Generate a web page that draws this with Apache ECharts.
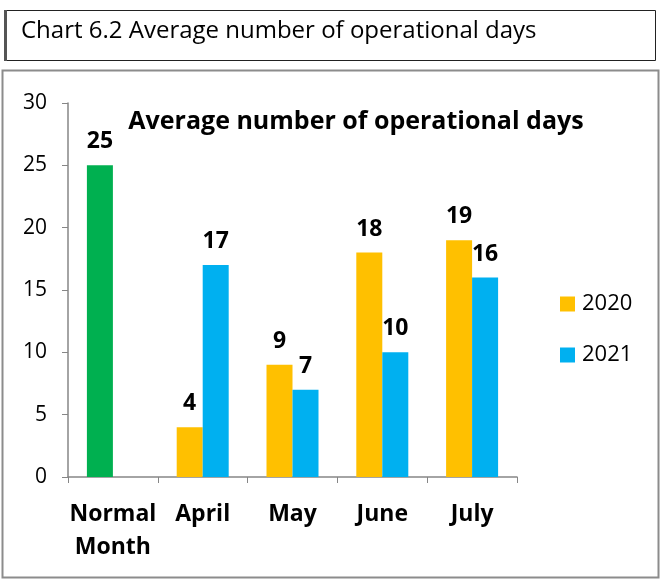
<!DOCTYPE html>
<html><head><meta charset="utf-8">
<script src="https://cdn.jsdelivr.net/npm/echarts@6/dist/echarts.min.js"></script>
<style>html,body{margin:0;padding:0;background:#fff}#c{width:662px;height:580px}</style>
</head><body><div id="c"></div>
<script>
const categories = ['Normal\nMonth', 'April', 'May', 'June', 'July'];
const values2020 = [25, 4, 9, 18, 19];
const values2021 = [null, 17, 7, 10, 16];
const yTicks = [0, 5, 10, 15, 20, 25, 30];
const seriesNames = ['2020', '2021'];
const headerText = 'Chart 6.2 Average number of operational days';
const chartTitle = 'Average number of operational days';

const FONT = '"Open Sans", "Liberation Sans", sans-serif';
const chart = echarts.init(document.getElementById('c'), null, {renderer: 'canvas'});
const labelStyle = {show: true, position: 'top', distance: 12, fontSize: 23, fontWeight: 'bold', color: '#000', fontFamily: FONT};
chart.setOption({
  animation: false,
  textStyle: {fontFamily: FONT},
  graphic: [
    {type: 'rect', shape: {x: 4.5, y: 10.5, width: 651, height: 50}, style: {fill: '#fff', stroke: '#222', lineWidth: 1}},
    {type: 'rect', shape: {x: 4, y: 10, width: 3, height: 51}, style: {fill: '#555'}},
    {type: 'text', x: 21, y: 31, style: {text: headerText, fontSize: 24, fontFamily: FONT, fill: '#000', textVerticalAlign: 'middle'}},
    {type: 'rect', shape: {x: 2.5, y: 70.5, width: 656, height: 507}, style: {fill: 'none', stroke: '#8c8c8c', lineWidth: 2}, z: -1}
  ],
  title: {text: chartTitle, left: 351, textAlign: 'center', top: 104,
    textStyle: {fontSize: 25, fontWeight: 'bold', color: '#000', fontFamily: FONT}},
  legend: {orient: 'vertical', left: 555, top: 288, itemWidth: 15, itemHeight: 15, itemGap: 29,
    icon: 'rect', data: seriesNames,
    textStyle: {fontSize: 22, color: '#000', fontFamily: FONT, padding: [0, 0, 0, 2]}},
  grid: {left: 68, right: 145, top: 103, bottom: 103},
  xAxis: {type: 'category', data: categories,
    axisLine: {lineStyle: {color: '#868686', width: 1.5}},
    axisTick: {show: true, length: 6, lineStyle: {color: '#868686'}},
    axisLabel: {fontSize: 23, fontWeight: 'bold', color: '#000', margin: 21, lineHeight: 33, interval: 0, fontFamily: FONT}},
  yAxis: {type: 'value', min: 0, max: 30, interval: 5,
    axisLine: {show: true, lineStyle: {color: '#868686', width: 1.5}},
    axisTick: {show: true, length: 6, lineStyle: {color: '#868686'}},
    splitLine: {show: false},
    axisLabel: {fontSize: 21, color: '#000', margin: 21, fontFamily: FONT,
      formatter: v => yTicks.includes(v) ? String(v) : ''}},
  series: [
    {name: seriesNames[0], type: 'bar', barWidth: 26, barGap: '0%',
      itemStyle: {color: '#FFC000'},
      label: labelStyle,
      data: values2020.map((v, i) => i === 0 ? {value: v, itemStyle: {color: '#00B050'}} : v)},
    {name: seriesNames[1], type: 'bar', barWidth: 26, barGap: '0%',
      itemStyle: {color: '#00B0F0'},
      label: labelStyle,
      data: values2021}
  ]
});
</script></body></html>
